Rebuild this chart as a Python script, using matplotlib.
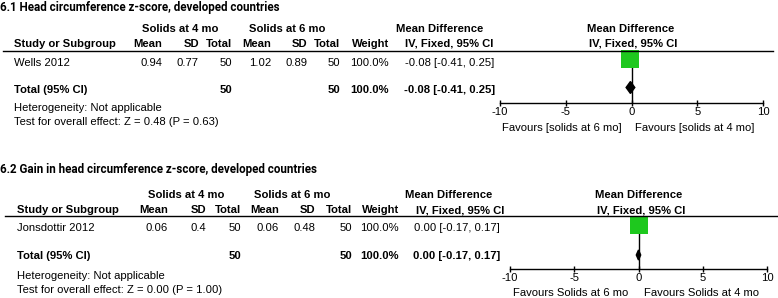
import matplotlib
matplotlib.use("Agg")
import matplotlib.pyplot as plt
from matplotlib.patches import Polygon
from matplotlib.lines import Line2D

# data
titles = ["6.1 Head circumference z-score, developed countries",
          "6.2 Gain in head circumference z-score, developed countries"]
studies = ["Wells 2012", "Jonsdottir 2012"]
mean_4mo = [0.94, 0.06]
sd_4mo = [0.77, 0.4]
n_4mo = [50, 50]
mean_6mo = [1.02, 0.06]
sd_6mo = [0.89, 0.48]
n_6mo = [50, 50]
weights = [100.0, 100.0]
md = [-0.08, 0.00]
ci_lo = [-0.41, -0.17]
ci_hi = [0.25, 0.17]
z_values = [0.48, 0.00]
p_values = [0.63, 1.00]
favours_left = ["Favours [solids at 6 mo]", "Favours Solids at 6 mo"]
favours_right = ["Favours [solids at 4 mo]", "Favours Solids at 4 mo"]
x_ticks = [-10, -5, 0, 5, 10]

W, H = 778, 298
BODY = ["Liberation Sans", "DejaVu Sans"]
TITLE = ["Roboto", "DejaVu Sans"]
FS = 8.1
GREEN = "#1ec81e"

# pixel layout of each panel
layouts = [
    dict(title_y=11.5, group_y=32.3, head_y=46.7, line_y=51, line_x=(3, 773),
         row_y=66, total_y=93, het_y=111, test_y=125, study_x=14,
         cols=[162, 199, 232, 271, 307, 340, 389], grp_x=[180, 287.5],
         md_hdr=(440, 449), md_x=449.5, plot_x=(500, 763), axis_y=103,
         row_c=59, unit=28.5, dia_h=0.21, plot_hdr=(631, 633),
         fav_y=131, fav_x=(562, 695)),
    dict(title_y=172.7, group_y=198, head_y=213.3, line_y=216, line_x=(5, 778),
         row_y=231, total_y=259.3, het_y=279.3, test_y=293, study_x=17,
         cols=[168, 206, 241, 279, 315, 352, 399], grp_x=[186, 292.5],
         md_hdr=(449, 460), md_x=456.5, plot_x=(510, 767), axis_y=269.3,
         row_c=225, unit=30, dia_h=0.167, plot_hdr=(638.5, 641),
         fav_y=296.5, fav_x=(571, 701.5)),
]

fig = plt.figure(figsize=(W / 100, H / 100), dpi=100)


def fx(x):
    return x / W


def fy(y):
    return 1 - y / H


def txt(x, y, s, ha="left", bold=False, size=FS, family=BODY, **kw):
    fig.text(fx(x), fy(y), s, ha=ha, va="baseline", fontsize=size,
             fontweight="bold" if bold else "normal", family=family, **kw)


for i, L in enumerate(layouts):
    txt(0, L["title_y"], titles[i], bold=True, size=8.4, family=TITLE,
        fontstretch="condensed")

    # column headers
    txt(L["grp_x"][0], L["group_y"], "Solids at 4 mo", ha="center", bold=True)
    txt(L["grp_x"][1], L["group_y"], "Solids at 6 mo", ha="center", bold=True)
    txt(L["md_hdr"][0], L["group_y"], "Mean Difference", ha="center", bold=True)
    txt(L["plot_hdr"][0], L["group_y"], "Mean Difference", ha="center", bold=True)
    txt(L["study_x"], L["head_y"], "Study or Subgroup", bold=True)
    for x, s in zip(L["cols"], ["Mean", "SD", "Total", "Mean", "SD", "Total", "Weight"]):
        txt(x, L["head_y"], s, ha="right", bold=True)
    txt(L["md_hdr"][1], L["head_y"], "IV, Fixed, 95% CI", ha="center", bold=True)
    txt(L["plot_hdr"][1], L["head_y"], "IV, Fixed, 95% CI", ha="center", bold=True)
    fig.add_artist(Line2D([fx(L["line_x"][0]), fx(L["line_x"][1])],
                          [fy(L["line_y"]), fy(L["line_y"])], color="black", lw=1))

    # study row
    ci_txt = f"{md[i]:.2f} [{ci_lo[i]:.2f}, {ci_hi[i]:.2f}]"
    txt(L["study_x"], L["row_y"], studies[i])
    vals = [str(mean_4mo[i]), str(sd_4mo[i]), str(n_4mo[i]), str(mean_6mo[i]),
            str(sd_6mo[i]), str(n_6mo[i]), f"{weights[i]:.1f}%"]
    for x, s in zip(L["cols"], vals):
        txt(x, L["row_y"], s, ha="right")
    txt(L["md_x"], L["row_y"], ci_txt, ha="center")

    # total row
    txt(L["study_x"], L["total_y"], "Total (95% CI)", bold=True)
    txt(L["cols"][2], L["total_y"], str(n_4mo[i]), ha="right", bold=True)
    txt(L["cols"][5], L["total_y"], str(n_6mo[i]), ha="right", bold=True)
    txt(L["cols"][6], L["total_y"], f"{weights[i]:.1f}%", ha="right", bold=True)
    txt(L["md_x"], L["total_y"], ci_txt, ha="center", bold=True)
    txt(L["study_x"], L["het_y"], "Heterogeneity: Not applicable")
    txt(L["study_x"], L["test_y"],
        f"Test for overall effect: Z = {z_values[i]:.2f} (P = {p_values[i]:.2f})")

    # forest plot
    x0, x1 = L["plot_x"]
    y_top, y_bot = L["line_y"], L["axis_y"]
    ax = fig.add_axes([fx(x0), fy(y_bot), (x1 - x0) / W, (y_bot - y_top) / H])
    ax.set_xlim(-10, 10)
    ax.set_ylim((y_bot - L["row_c"]) / L["unit"], (y_top - L["row_c"]) / L["unit"])
    ax.patch.set_visible(False)
    for side in ["top", "left", "right"]:
        ax.spines[side].set_visible(False)
    ax.spines["bottom"].set_linewidth(1)
    ax.set_yticks([])
    ax.set_xticks(x_ticks)
    ax.set_xticklabels([str(t) for t in x_ticks], family=BODY, fontsize=FS)
    ax.tick_params(axis="x", direction="inout", length=5, width=1, pad=0.5)
    ax.axvline(0, color="black", lw=1)
    ax.plot([ci_lo[i], ci_hi[i]], [0, 0], color="black", lw=1)
    ax.plot(md[i], 0, marker="s", ms=12.5, color=GREEN, mec=GREEN, mew=0,
            clip_on=False)
    h = L["dia_h"]
    ax.add_patch(Polygon([[ci_lo[i], 1], [md[i], 1 - h], [ci_hi[i], 1], [md[i], 1 + h]],
                         closed=True, color="black", clip_on=False))

    txt(L["fav_x"][0], L["fav_y"], favours_left[i], ha="center")
    txt(L["fav_x"][1], L["fav_y"], favours_right[i], ha="center")

fig.savefig("out.png", dpi=100)
